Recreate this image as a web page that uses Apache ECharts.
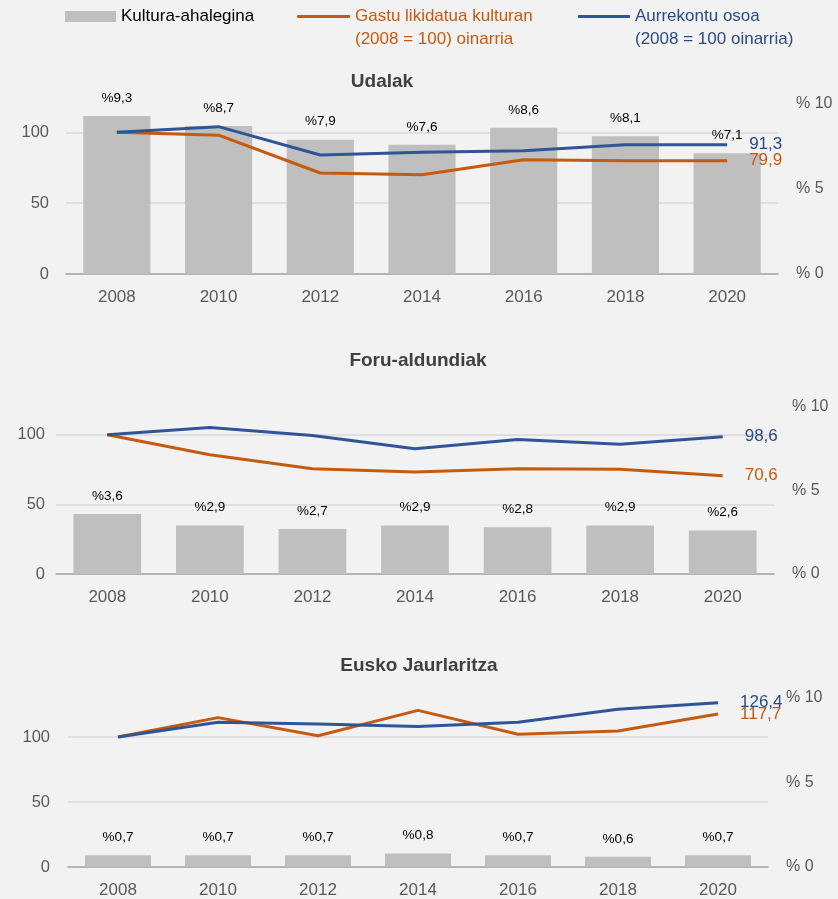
<!DOCTYPE html>
<html>
<head>
<meta charset="utf-8">
<script src="https://cdn.jsdelivr.net/npm/echarts@6/dist/echarts.min.js"></script>
<style>
  html, body { margin: 0; padding: 0; background: #f2f2f2; }
  #chart { width: 838px; height: 899px; }
</style>
</head>
<body>
<div id="chart"></div>
<script>
// datuak
const years = ['2008', '2010', '2012', '2014', '2016', '2018', '2020'];

// Udalak
const udalEffort = [9.3, 8.7, 7.9, 7.6, 8.6, 8.1, 7.1];
const udalSpent = [100, 98, 71.3, 70, 80.7, 80, 79.9];
const udalBudget = [100, 104, 84, 86, 87, 91.3, 91.3];

// Foru-aldundiak
const foruEffort = [3.6, 2.9, 2.7, 2.9, 2.8, 2.9, 2.6];
const foruSpent = [100, 85.7, 75.7, 73.3, 75.7, 75.2, 70.6];
const foruBudget = [100, 105.2, 99.5, 90, 96.6, 93.3, 98.6];

// Eusko Jaurlaritza
const ejEffort = [0.7, 0.7, 0.7, 0.8, 0.7, 0.6, 0.7];
const ejSpent = [100, 114.9, 101, 120.5, 102.1, 104.6, 117.7];
const ejBudget = [100, 111.3, 110, 108, 111.3, 121.4, 126.4];

const panelTitles = ['Udalak', 'Foru-aldundiak', 'Eusko Jaurlaritza'];
const leftMax = [120, 120, 130];   // index axis (2008 = 100)
const rightMax = 10;               // % axis

const ORANGE = '#c55a11';
const BLUE = '#2f5597';
const GREY = '#bfbfbf';
const AXIS_TXT = '#595959';
const FONT = '"Liberation Sans", Arial, sans-serif';

const panels = [
  { effort: udalEffort, spent: udalSpent, budget: udalBudget },
  { effort: foruEffort, spent: foruSpent, budget: foruBudget },
  { effort: ejEffort, spent: ejSpent, budget: ejBudget }
];

const grids = [
  { left: 66, right: 60, top: 104, height: 170 },
  { left: 56, right: 64, top: 407, height: 167 },
  { left: 68, right: 70, top: 698, height: 169 }
];
const titlePos = [
  { x: 382, y: 71 },
  { x: 418, y: 350 },
  { x: 419, y: 655 }
];
const leftMargin = [17, 11, 18];

const comma = v => v.toFixed(1).replace('.', ',');

const xAxis = [], yAxis = [], series = [], title = [];
panels.forEach((p, i) => {
  title.push({
    text: panelTitles[i],
    left: titlePos[i].x,
    top: titlePos[i].y,
    textAlign: 'center',
    padding: 0,
    textStyle: { fontSize: 19, fontWeight: 'bold', color: '#404040', fontFamily: FONT, lineHeight: 22 }
  });
  xAxis.push({
    type: 'category',
    gridIndex: i,
    data: years,
    axisTick: { show: false },
    axisLine: { lineStyle: { color: '#a6a6a6', width: 1.5 } },
    axisLabel: { fontSize: 17, color: AXIS_TXT, margin: 15, fontFamily: FONT }
  });
  yAxis.push({
    type: 'value',
    gridIndex: i,
    min: 0,
    max: leftMax[i],
    interval: 50,
    axisLine: { show: false },
    axisTick: { show: false },
    axisLabel: { fontSize: 16.5, color: AXIS_TXT, margin: leftMargin[i], showMaxLabel: false, fontFamily: FONT },
    splitLine: { showMaxLine: false, lineStyle: { color: '#d9d9d9', width: 1.5 } }
  });
  yAxis.push({
    type: 'value',
    gridIndex: i,
    position: 'right',
    min: 0,
    max: rightMax,
    interval: 5,
    axisLine: { show: false },
    axisTick: { show: false },
    splitLine: { show: false },
    axisLabel: { fontSize: 16, color: AXIS_TXT, margin: 18, fontFamily: FONT, formatter: v => '% ' + v }
  });
  series.push({
    name: 'Kultura-ahalegina',
    type: 'bar',
    xAxisIndex: i,
    yAxisIndex: i * 2 + 1,
    data: p.effort,
    barWidth: '66%',
    itemStyle: { color: GREY },
    label: {
      show: true,
      position: 'top',
      distance: 11,
      fontSize: 13.5,
      color: '#000',
      fontFamily: FONT,
      formatter: d => '%' + comma(d.value)
    }
  });
  series.push({
    name: 'Gastu likidatua kulturan',
    type: 'line',
    xAxisIndex: i,
    yAxisIndex: i * 2,
    data: p.spent,
    symbol: 'none',
    lineStyle: { color: ORANGE, width: 3 },
    itemStyle: { color: ORANGE },
    endLabel: { show: true, distance: 22, fontSize: 17, color: ORANGE, fontFamily: FONT, formatter: d => comma(d.value) }
  });
  series.push({
    name: 'Aurrekontu osoa',
    type: 'line',
    xAxisIndex: i,
    yAxisIndex: i * 2,
    data: p.budget,
    symbol: 'none',
    lineStyle: { color: BLUE, width: 3 },
    itemStyle: { color: BLUE },
    endLabel: { show: true, distance: 22, fontSize: 17, color: '#2a4a85', fontFamily: FONT, formatter: d => comma(d.value) }
  });
});

const legendBase = {
  top: 8,
  padding: 0,
  selectedMode: false
};

const chart = echarts.init(document.getElementById('chart'));
chart.setOption({
  animation: false,
  backgroundColor: '#f2f2f2',
  textStyle: { fontFamily: FONT },
  title: title,
  legend: [
    Object.assign({}, legendBase, {
      left: 65, itemWidth: 51, itemHeight: 11, icon: 'rect',
      data: ['Kultura-ahalegina'],
      textStyle: { fontSize: 17, color: '#000', fontFamily: FONT }
    }),
    Object.assign({}, legendBase, {
      left: 297, itemWidth: 53, itemHeight: 3, icon: 'roundRect',
      data: ['Gastu likidatua kulturan'],
      textStyle: { fontSize: 17, color: ORANGE, fontFamily: FONT }
    }),
    Object.assign({}, legendBase, {
      left: 578, itemWidth: 52, itemHeight: 3, icon: 'roundRect',
      data: ['Aurrekontu osoa'],
      textStyle: { fontSize: 17, color: '#2a4a85', fontFamily: FONT }
    })
  ],
  graphic: [
    { type: 'text', left: 355, top: 31, style: { text: '(2008 = 100) oinarria', fill: ORANGE, font: '17px ' + FONT } },
    { type: 'text', left: 635, top: 31, style: { text: '(2008 = 100 oinarria)', fill: '#2a4a85', font: '17px ' + FONT } }
  ],
  grid: grids,
  xAxis: xAxis,
  yAxis: yAxis,
  series: series
});
</script>
</body>
</html>
